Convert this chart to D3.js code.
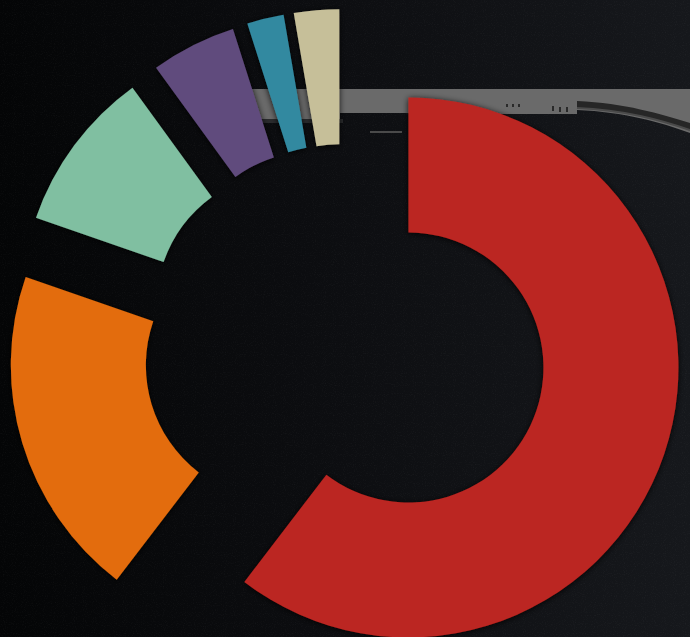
<!DOCTYPE html>
<html>
<head>
<meta charset="utf-8">
<script src="https://cdn.jsdelivr.net/npm/d3@7"></script>
<style>
html,body{margin:0;padding:0;background:#0b0c0e;overflow:hidden;}
svg{display:block;}
</style>
</head>
<body>
<svg id="chart" width="690" height="637"></svg>
<script>
// Data
const categories = ["Segment 1", "Segment 2", "Segment 3", "Segment 4", "Segment 5", "Segment 6"];
const values = [60.4, 19.9, 9.7, 5.1, 2.2, 2.7];
const colors = ["#bb2520", "#e36c0a", "#80bfa1", "#614b7d", "#3289a0", "#c6bf99"];

const W = 690, H = 637;
const cx = 345, cy = 346;
const innerR = 135, outerR = 270, explode = 67;

const svg = d3.select("#chart");
const defs = svg.append("defs");

const bg = defs.append("linearGradient").attr("id", "bg").attr("x1", 0).attr("x2", 1).attr("y1", 0).attr("y2", 0);
bg.append("stop").attr("offset", "0%").attr("stop-color", "#040506");
bg.append("stop").attr("offset", "45%").attr("stop-color", "#0c0d10");
bg.append("stop").attr("offset", "100%").attr("stop-color", "#16181c");

const noise = defs.append("filter").attr("id", "noise").attr("x", 0).attr("y", 0).attr("width", "100%").attr("height", "100%");
noise.append("feTurbulence").attr("type", "fractalNoise").attr("baseFrequency", 0.9).attr("numOctaves", 1).attr("seed", 3).attr("result", "n");
noise.append("feColorMatrix").attr("in", "n").attr("type", "matrix")
  .attr("values", "0 0 0 0 1  0 0 0 0 1  0 0 0 0 1  0 0 0 -2.2 1.05");

const shadow = defs.append("filter").attr("id", "shadow").attr("x", "-20%").attr("y", "-20%").attr("width", "140%").attr("height", "140%");
shadow.append("feDropShadow").attr("dx", 0).attr("dy", 1).attr("stdDeviation", 3).attr("flood-color", "#000").attr("flood-opacity", 0.85);

const swooshGrad = defs.append("linearGradient").attr("id", "swoosh").attr("x1", 0).attr("x2", 0).attr("y1", 0).attr("y2", 1);
swooshGrad.append("stop").attr("offset", "0%").attr("stop-color", "#1e1e1e");
swooshGrad.append("stop").attr("offset", "60%").attr("stop-color", "#3a3a3a");
swooshGrad.append("stop").attr("offset", "100%").attr("stop-color", "#7a7a7a");

svg.append("rect").attr("width", W).attr("height", H).attr("fill", "url(#bg)");
svg.append("rect").attr("width", W).attr("height", H).attr("filter", "url(#noise)").attr("opacity", 0.05);

// Gray band artifact in the background
const band = svg.append("g");
band.append("path")
  .attr("d", "M245,89 L690,89 L690,133 C660,122 625,112 577,110 L577,114 L420,114 L405,113 L340,113 L340,119 L245,119 Z")
  .attr("fill", "#6a6a6a");
band.append("path")
  .attr("d", "M577,101 C625,103 660,114 690,123 L690,130 C660,120 625,110 577,108 Z")
  .attr("fill", "#262626");
band.append("path")
  .attr("d", "M577,108 C625,110 660,120 690,130")
  .attr("fill", "none").attr("stroke", "#4a4a4a").attr("stroke-width", 2);
band.append("rect").attr("x", 255).attr("y", 119).attr("width", 88).attr("height", 4).attr("fill", "#2a2b2d");
band.append("rect").attr("x", 370).attr("y", 131).attr("width", 32).attr("height", 2).attr("fill", "#4a4a4a");
[[506,104],[512,104],[518,104],[552,106],[559,107],[566,107]].forEach(p => {
  band.append("rect").attr("x", p[0]).attr("y", p[1]).attr("width", 2).attr("height", p[0] > 550 ? 5 : 3).attr("fill", "#2a2a2a");
});

// Pie
const pie = d3.pie().sort(null).value(d => d.value).startAngle(0).endAngle(2 * Math.PI);
const arc = d3.arc().innerRadius(innerR).outerRadius(outerR);
const data = categories.map((c, i) => ({ name: c, value: values[i], color: colors[i] }));

const g = svg.append("g").attr("transform", `translate(${cx},${cy})`);
g.selectAll("path.slice")
  .data(pie(data))
  .join("path")
  .attr("class", "slice")
  .attr("d", arc)
  .attr("fill", d => d.data.color)
  .attr("filter", "url(#shadow)")
  .attr("transform", d => {
    const mid = (d.startAngle + d.endAngle) / 2;
    return `translate(${explode * Math.sin(mid)},${-explode * Math.cos(mid)})`;
  })
  .append("title").text(d => `${d.data.name}: ${d.data.value}%`);
</script>
</body>
</html>
